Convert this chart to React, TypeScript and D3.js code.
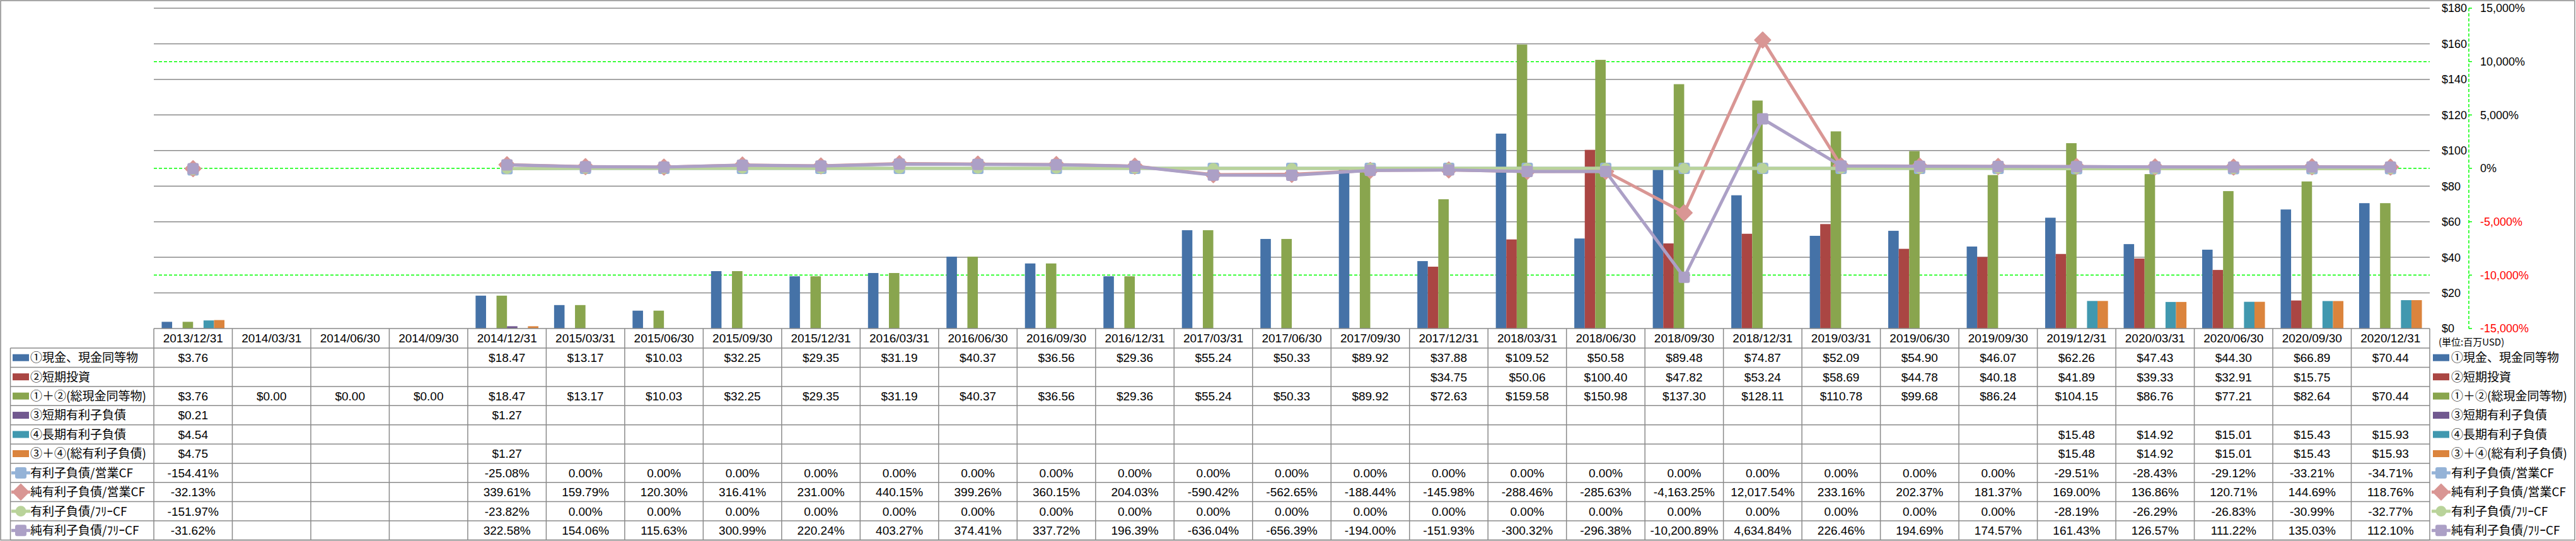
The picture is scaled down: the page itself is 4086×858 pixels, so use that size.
import React from 'react';
import * as d3 from 'd3';

const N = null;

const categories = ['2013/12/31','2014/03/31','2014/06/30','2014/09/30','2014/12/31','2015/03/31','2015/06/30','2015/09/30','2015/12/31','2016/03/31','2016/06/30','2016/09/30','2016/12/31','2017/03/31','2017/06/30','2017/09/30','2017/12/31','2018/03/31','2018/06/30','2018/09/30','2018/12/31','2019/03/31','2019/06/30','2019/09/30','2019/12/31','2020/03/31','2020/06/30','2020/09/30','2020/12/31'];

const cash = [3.76, N, N, N, 18.47, 13.17, 10.03, 32.25, 29.35, 31.19, 40.37, 36.56, 29.36, 55.24, 50.33, 89.92, 37.88, 109.52, 50.58, 89.48, 74.87, 52.09, 54.90, 46.07, 62.26, 47.43, 44.30, 66.89, 70.44];
const shortInv = [N, N, N, N, N, N, N, N, N, N, N, N, N, N, N, N, 34.75, 50.06, 100.40, 47.82, 53.24, 58.69, 44.78, 40.18, 41.89, 39.33, 32.91, 15.75, N];
const totalCash = [3.76, 0, 0, 0, 18.47, 13.17, 10.03, 32.25, 29.35, 31.19, 40.37, 36.56, 29.36, 55.24, 50.33, 89.92, 72.63, 159.58, 150.98, 137.30, 128.11, 110.78, 99.68, 86.24, 104.15, 86.76, 77.21, 82.64, 70.44];
const shortDebt = [0.21, N, N, N, 1.27, N, N, N, N, N, N, N, N, N, N, N, N, N, N, N, N, N, N, N, N, N, N, N, N];
const longDebt = [4.54, N, N, N, N, N, N, N, N, N, N, N, N, N, N, N, N, N, N, N, N, N, N, N, 15.48, 14.92, 15.01, 15.43, 15.93];
const totalDebt = [4.75, N, N, N, 1.27, N, N, N, N, N, N, N, N, N, N, N, N, N, N, N, N, N, N, N, 15.48, 14.92, 15.01, 15.43, 15.93];

const debtOpCF = [-154.41, N, N, N, -25.08, 0, 0, 0, 0, 0, 0, 0, 0, 0, 0, 0, 0, 0, 0, 0, 0, 0, 0, 0, -29.51, -28.43, -29.12, -33.21, -34.71];
const netDebtOpCF = [-32.13, N, N, N, 339.61, 159.79, 120.30, 316.41, 231.00, 440.15, 399.26, 360.15, 204.03, -590.42, -562.65, -188.44, -145.98, -288.46, -285.63, -4163.25, 12017.54, 233.16, 202.37, 181.37, 169.00, 136.86, 120.71, 144.69, 118.76];
const debtFCF = [-151.97, N, N, N, -23.82, 0, 0, 0, 0, 0, 0, 0, 0, 0, 0, 0, 0, 0, 0, 0, 0, 0, 0, 0, -28.19, -26.29, -26.83, -30.99, -32.77];
const netDebtFCF = [-31.62, N, N, N, 322.58, 154.06, 115.63, 300.99, 220.24, 403.27, 374.41, 337.72, 196.39, -636.04, -656.39, -194.00, -151.93, -300.32, -296.38, -10200.89, 4634.84, 226.46, 194.69, 174.57, 161.43, 126.57, 111.22, 135.03, 112.10];

const leftTicks = [0, 20, 40, 60, 80, 100, 120, 140, 160, 180];
const rightTicks = [-15000, -10000, -5000, 0, 5000, 10000, 15000];
const rightGuides = [-10000, 0, 10000];

const barSeries = [
  { name: '①現金、現金同等物', values: cash, color: '#4572A7' },
  { name: '②短期投資', values: shortInv, color: '#AA4643' },
  { name: '①＋②(総現金同等物)', values: totalCash, color: '#89A54E' },
  { name: '③短期有利子負債', values: shortDebt, color: '#71588F' },
  { name: '④長期有利子負債', values: longDebt, color: '#4198AF' },
  { name: '③＋④(総有利子負債)', values: totalDebt, color: '#DB843D' },
];

const lineSeries = [
  { name: '有利子負債/営業CF', values: debtOpCF, color: '#95B3D7', marker: 'square' },
  { name: '純有利子負債/営業CF', values: netDebtOpCF, color: '#D99694', marker: 'diamond' },
  { name: '有利子負債/ﾌﾘｰCF', values: debtFCF, color: '#B9D39A', marker: 'circle' },
  { name: '純有利子負債/ﾌﾘｰCF', values: netDebtFCF, color: '#ACA0C6', marker: 'square' },
];

const W = 4086, H = 858;
const plotL = 244, plotR = 3854, plotT = 13, plotB = 521;
const rowTop = 552, rowBottom = 856.5;
const grid = '#8a8a8a';
const numFont = "'Liberation Sans', Arial, sans-serif";
const jpFont = "'Noto Sans CJK JP', 'Liberation Sans', sans-serif";

const fmtMoney = (v) => '$' + d3.format(',.2f')(v);
const fmtPct = (v) => (v < 0 ? '-' : '') + d3.format(',.2f')(Math.abs(v)) + '%';
const fmtAxisPct = (v) => (v < 0 ? '-' : '') + d3.format(',')(Math.abs(v)) + '%';

function Marker({ type, x, y, color }) {
  if (type === 'diamond') {
    const r = 12.5;
    return <path d={`M${x},${y - r}L${x + r},${y}L${x},${y + r}L${x - r},${y}Z`} fill={color} stroke={color} strokeWidth={2} strokeLinejoin="round" />;
  }
  if (type === 'circle') {
    return <circle cx={x} cy={y} r={8.5} fill={color} />;
  }
  return <rect x={x - 9} y={y - 9} width={18} height={18} rx={3} fill={color} />;
}

export default function App() {
  const x = d3.scaleBand().domain(categories).range([plotL, plotR]).padding(0);
  const bw = x.bandwidth();
  const xi = d3.scaleBand().domain(barSeries.map((s) => s.name)).range([0, bw]).paddingInner(0).paddingOuter(0.75);
  const yL = d3.scaleLinear().domain([0, 180]).range([plotB, plotT]);
  const yR = d3.scaleLinear().domain([-15000, 15000]).range([plotB, plotT]);

  const rows = [...barSeries.map((s) => ({ ...s, kind: 'bar' })), ...lineSeries.map((s) => ({ ...s, kind: 'line' }))];
  const rowH = (rowBottom - rowTop) / rows.length;
  const cx = (c) => x(c) + bw / 2;

  const lineGen = d3.line()
    .defined((d) => d.v != null)
    .x((d) => cx(d.c))
    .y((d) => yR(d.v));

  return (
    <svg width={W} height={H} style={{ position: 'absolute', left: 0, top: 0, background: '#fff' }}>
      <rect x={1} y={1} width={W - 3} height={H - 2.5} fill="#fff" stroke={grid} strokeWidth={1.5} />

      {/* horizontal gridlines */}
      {leftTicks.filter((t) => t > 0).map((t) => (
        <line key={'g' + t} x1={plotL} x2={plotR} y1={yL(t)} y2={yL(t)} stroke={grid} strokeWidth={1.5} />
      ))}
      {rightGuides.map((t) => (
        <line key={'rg' + t} x1={plotL} x2={plotR} y1={yR(t)} y2={yR(t)} stroke="#00FF00" strokeWidth={1.5} strokeDasharray="5,3" />
      ))}

      {/* bars */}
      {barSeries.map((s) => (
        <g key={s.name}>
          {s.values.map((v, i) => v == null || v === 0 ? null : (
            <rect key={i} x={x(categories[i]) + xi(s.name)} width={xi.bandwidth()} y={yL(v)} height={yL(0) - yL(v)} fill={s.color} />
          ))}
        </g>
      ))}

      {/* lines */}
      {lineSeries.map((s) => {
        const pts = s.values.map((v, i) => ({ c: categories[i], v }));
        return (
          <g key={s.name}>
            <path d={lineGen(pts)} fill="none" stroke={s.color} strokeWidth={5} strokeLinejoin="round" />
            {pts.filter((p) => p.v != null).map((p, i) => (
              <Marker key={i} type={s.marker} x={cx(p.c)} y={yR(p.v)} color={s.color} />
            ))}
          </g>
        );
      })}

      {/* left-value axis labels (placed at right) */}
      {leftTicks.map((t) => (
        <text key={'lt' + t} x={3873} y={yL(t)} dy="0.36em" fontFamily={numFont} fontSize={18} fill="#000">{'$' + t}</text>
      ))}
      {/* secondary axis */}
      <line x1={3916} x2={3916} y1={plotT} y2={plotB} stroke="#00FF00" strokeWidth={1.5} strokeDasharray="5,3" />
      {rightTicks.map((t) => (
        <g key={'rt' + t}>
          <line x1={3916} x2={3921} y1={yR(t)} y2={yR(t)} stroke="#00FF00" strokeWidth={1.5} />
          <text x={3934} y={yR(t)} dy="0.36em" fontFamily={numFont} fontSize={18} fill={t < 0 ? '#FF0000' : '#000'}>{fmtAxisPct(t)}</text>
        </g>
      ))}
      <text x={3868} y={543} dy="0.36em" fontFamily={jpFont} fontSize={15} fill="#000">(単位:百万USD)</text>

      {/* data table */}
      <line x1={plotL} x2={plotR} y1={plotB} y2={plotB} stroke={grid} strokeWidth={1.5} />
      {d3.range(rows.length + 1).map((r) => (
        <line key={'rl' + r} x1={16.5} x2={plotR} y1={rowTop + r * rowH} y2={rowTop + r * rowH} stroke={grid} strokeWidth={1.5} />
      ))}
      <line x1={16.5} x2={16.5} y1={rowTop} y2={rowBottom} stroke={grid} strokeWidth={1.5} />
      {categories.map((c) => (
        <line key={'vl' + c} x1={x(c)} x2={x(c)} y1={plotB} y2={rowBottom} stroke={grid} strokeWidth={1.5} />
      ))}
      <line x1={plotR} x2={plotR} y1={plotB} y2={rowBottom} stroke={grid} strokeWidth={1.5} />

      {categories.map((c) => (
        <text key={'h' + c} x={cx(c)} y={(plotB + rowTop) / 2} dy="0.36em" textAnchor="middle" fontFamily={numFont} fontSize={19} fill="#000">{c}</text>
      ))}

      {rows.map((s, r) => {
        const ym = rowTop + (r + 0.5) * rowH;
        const icon = (x0) => s.kind === 'bar'
          ? <rect x={x0} y={ym - 5.5} width={26} height={11} fill={s.color} />
          : (
            <g>
              <line x1={x0 - 2} x2={x0 + 28} y1={ym} y2={ym} stroke={s.color} strokeWidth={5} />
              <Marker type={s.marker} x={x0 + 13} y={ym} color={s.color} />
            </g>
          );
        return (
          <g key={'row' + r}>
            {icon(20)}
            <text x={48} y={ym} dy="0.36em" fontFamily={jpFont} fontSize={19} fill="#000">{s.name}</text>
            {icon(3859)}
            <text x={3888} y={ym} dy="0.36em" fontFamily={jpFont} fontSize={19} fill="#000">{s.name}</text>
            {s.values.map((v, i) => v == null ? null : (
              <text key={i} x={cx(categories[i])} y={ym} dy="0.36em" textAnchor="middle" fontFamily={numFont} fontSize={19} fill="#000">
                {s.kind === 'bar' ? fmtMoney(v) : fmtPct(v)}
              </text>
            ))}
          </g>
        );
      })}
    </svg>
  );
}
